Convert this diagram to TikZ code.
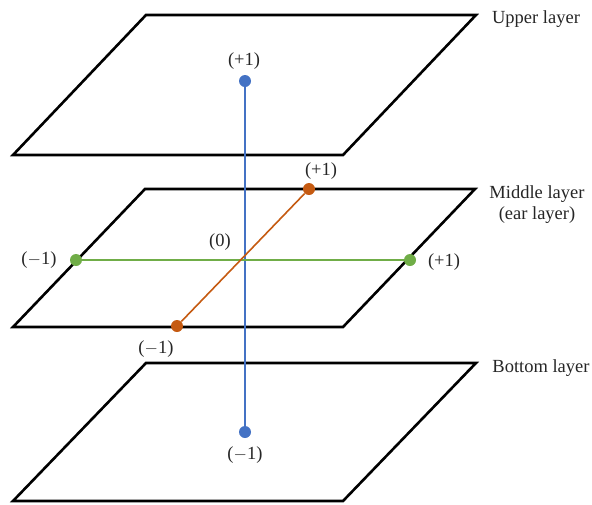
\documentclass[tikz,border=0pt]{standalone}
\usepackage{fontspec}
\setmainfont{Liberation Serif}
\begin{document}
\begin{tikzpicture}[x=1pt,y=-1pt,
  layer/.style={draw=black,line width=2.6pt,line join=miter},
  lbl/.style={font=\fontsize{18.5}{21}\selectfont,text=black!85,inner sep=0pt,align=center},
  dotb/.style={circle,fill=#1,draw=none,minimum size=12pt,inner sep=0pt},
  axis/.style={draw=#1,line width=1.6pt}]
\useasboundingbox (0,0) rectangle (592,504);
\definecolor{cblue}{HTML}{4472C4}
\definecolor{corange}{HTML}{C55A11}
\definecolor{cgreen}{HTML}{70AD47}
% layers
\draw[layer] (146,15) -- (476,15) -- (343,155) -- (13,155) -- cycle;
\draw[layer] (145,189) -- (475,189) -- (343,327) -- (13,327) -- cycle;
\draw[layer] (146,363) -- (476,363) -- (343,501) -- (13,501) -- cycle;
% dots
\node[dotb=cblue] (bt) at (245,81) {};
\node[dotb=cblue] (bb) at (245,432) {};
\node[dotb=cgreen] (gl) at (76,260) {};
\node[dotb=cgreen] (gr) at (410,260) {};
\node[dotb=corange] (ob) at (177,326) {};
\node[dotb=corange] (ot) at (309,189) {};
% axes
\draw[axis=cblue] (bt) -- (bb);
\draw[axis=cgreen] (gl) -- (gr);
\draw[axis=corange] (ob) -- (ot);
% labels
\node[lbl] (l1) at (244,61) {(+1)};
\node[lbl] (l2) at (245,455) {($-$1)};
\node[lbl] (l3) at (321,171) {(+1)};
\node[lbl] (l4) at (156,349) {($-$1)};
\node[lbl] (l5) at (220,242) {(0)};
\node[lbl] (l6) at (39,260) {($-$1)};
\node[lbl] (l7) at (444,262) {(+1)};
\node[lbl] (u) at (536,19) {Upper layer};
\node[lbl] (m) at (537,205) {Middle layer\\(ear layer)};
\node[lbl] (b) at (541,368) {Bottom layer};
\end{tikzpicture}
\end{document}
